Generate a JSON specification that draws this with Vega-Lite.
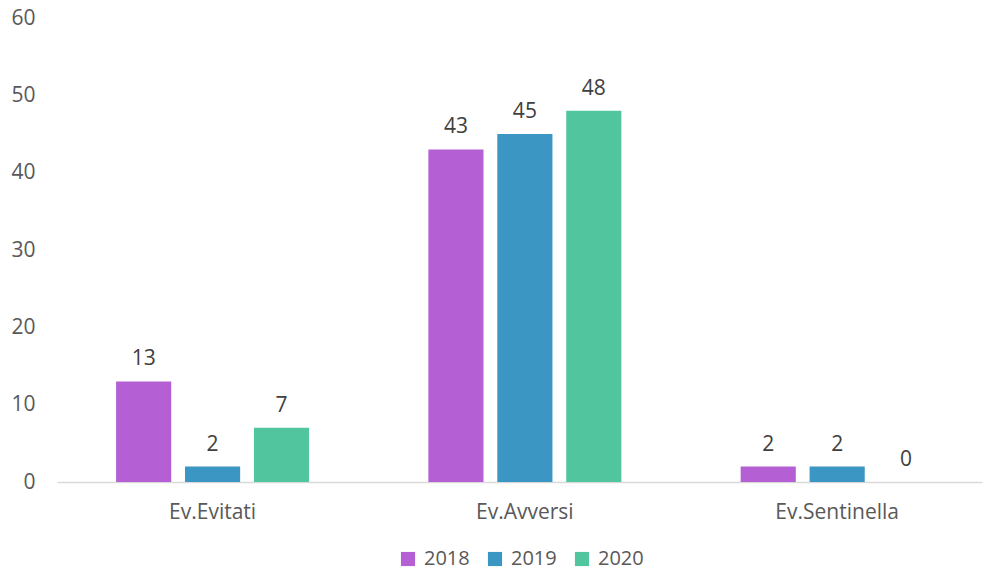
{
  "$schema": "https://vega.github.io/schema/vega-lite/v6.json",
  "width": 925,
  "height": 464,
  "autosize": {"type": "none"},
  "padding": {"left": 57, "top": 18, "right": 1, "bottom": 88},
  "background": "white",
  "config": {
    "view": {"stroke": null},
    "font": "Open Sans",
    "text": {"font": "Open Sans"}
  },
  "data": {
    "values": [
      {"cat": "Ev.Evitati", "year": "2018", "value": 13},
      {"cat": "Ev.Evitati", "year": "2019", "value": 2},
      {"cat": "Ev.Evitati", "year": "2020", "value": 7},
      {"cat": "Ev.Avversi", "year": "2018", "value": 43},
      {"cat": "Ev.Avversi", "year": "2019", "value": 45},
      {"cat": "Ev.Avversi", "year": "2020", "value": 48},
      {"cat": "Ev.Sentinella", "year": "2018", "value": 2},
      {"cat": "Ev.Sentinella", "year": "2019", "value": 2},
      {"cat": "Ev.Sentinella", "year": "2020", "value": 0}
    ]
  },
  "encoding": {
    "x": {
      "field": "cat", "type": "nominal", "sort": ["Ev.Evitati", "Ev.Avversi", "Ev.Sentinella"],
      "scale": {"paddingInner": 0.382, "paddingOuter": 0.172, "align": 0.55},
      "axis": {"title": null, "labelAngle": 0, "labelFontSize": 21, "labelColor": "#595959", "labelFont": "Open Sans", "ticks": false, "domainColor": "#d9d9d9", "domainWidth": 1.5, "labelPadding": 19}
    },
    "xOffset": {"field": "year", "type": "nominal", "scale": {"paddingInner": 0.2, "paddingOuter": 0}},
    "y": {
      "field": "value", "type": "quantitative",
      "scale": {"domain": [0, 60]},
      "axis": {"title": null, "values": [0,10,20,30,40,50,60], "labelOverlap": false, "grid": false, "domain": false, "ticks": false, "labelFontSize": 21, "labelColor": "#595959", "labelFont": "Open Sans", "labelPadding": 22}
    }
  },
  "layer": [
    {
      "mark": {"type": "bar"},
      "encoding": {
        "color": {
          "field": "year", "type": "nominal",
          "scale": {"domain": ["2018", "2019", "2020"], "range": ["#b460d4", "#3b96c4", "#51c59e"]},
          "legend": {"title": null, "orient": "none", "legendX": 341, "legendY": 531, "direction": "horizontal", "symbolType": "square", "symbolSize": 200, "symbolStrokeWidth": 0, "labelFontSize": 20, "labelColor": "#595959", "labelFont": "Open Sans", "columnPadding": 15, "labelOffset": 6}
        }
      }
    },
    {
      "mark": {"type": "text", "dy": -12, "baseline": "bottom", "fontSize": 21, "color": "#404040"},
      "encoding": {"text": {"field": "value", "type": "quantitative"}}
    }
  ]
}
